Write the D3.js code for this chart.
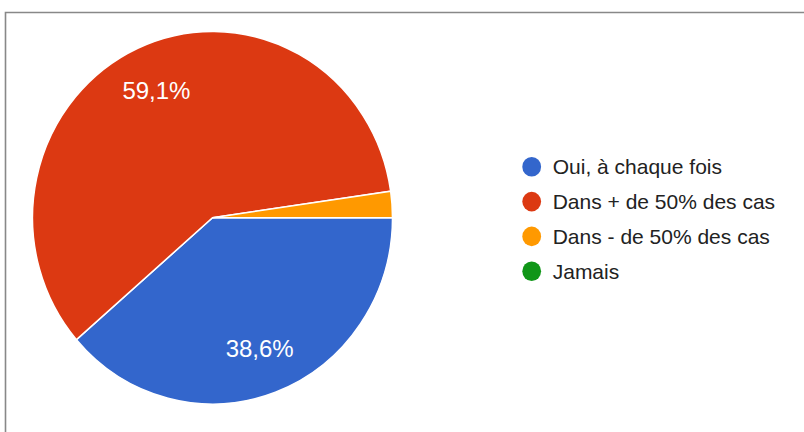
<!DOCTYPE html>
<html>
<head>
<meta charset="utf-8">
<script src="https://cdn.jsdelivr.net/npm/d3@7"></script>
<style>
  body { margin: 0; background: #fff; }
  svg { display: block; font-family: "Liberation Sans", Arial, sans-serif; }
</style>
</head>
<body>
<svg width="804" height="432"></svg>
<script>
// answers and counts (44 responses)
const categories = ["Oui, à chaque fois", "Dans + de 50% des cas", "Dans - de 50% des cas", "Jamais"];
const counts = [17, 26, 1, 0];
const colors = ["#3366cc", "#dc3912", "#ff9900", "#109618"];

const svg = d3.select("svg");

// frame around the chart (cut by the screenshot on the right and bottom)
svg.append("path")
  .attr("d", "M5.5,432 V12.5 H804")
  .attr("fill", "none")
  .attr("stroke", "#888")
  .attr("stroke-width", 1.6);

const cx = 212.5, cy = 217.7;
const r = 180;
const sy = 1.035; // the picture is a little taller than wide

const total = d3.sum(counts);
const fr = d3.formatLocale({decimal: ",", thousands: " ", grouping: [3], currency: ["", "€"]});
const pct = fr.format(".1f");

let pie = d3.pie().sort(null)
  .startAngle(Math.PI / 2)
  .endAngle(Math.PI / 2 + 2 * Math.PI);
let arcs = pie(counts);

let arc = d3.arc().innerRadius(0).outerRadius(r);
let labelArc = d3.arc().innerRadius(r * 0.5).outerRadius(r);

let g = svg.append("g")
  .attr("transform", "translate(" + cx + "," + cy + ") scale(1," + sy + ")");

g.selectAll("path")
  .data(arcs.filter(d => d.value > 0))
  .enter().append("path")
  .attr("d", arc)
  .attr("fill", d => colors[d.index])
  .attr("stroke", "#fff")
  .attr("stroke-width", 1.5);

// percentage labels, only on slices big enough
svg.append("g").selectAll("text")
  .data(arcs.filter(d => d.value / total > 0.05))
  .enter().append("text")
  .attr("x", d => cx + labelArc.centroid(d)[0])
  .attr("y", d => cy + labelArc.centroid(d)[1] * sy)
  .attr("text-anchor", "middle")
  .attr("dy", "0.36em")
  .attr("fill", "#fff")
  .style("font-size", "24px")
  .text(d => pct(d.value / total * 100) + "%");

// legend
let ly = d3.scalePoint().domain(categories).range([166.8, 271.2]);
let legend = svg.append("g").selectAll("g")
  .data(categories)
  .enter().append("g")
  .attr("transform", d => "translate(531.7," + ly(d) + ")");

legend.append("ellipse")
  .attr("rx", 9.4)
  .attr("ry", 9.8)
  .attr("fill", (d, i) => colors[i]);

legend.append("text")
  .attr("x", 21)
  .attr("dy", "0.36em")
  .attr("fill", "#222")
  .style("font-size", "21px")
  .text(d => d);
</script>
</body>
</html>
